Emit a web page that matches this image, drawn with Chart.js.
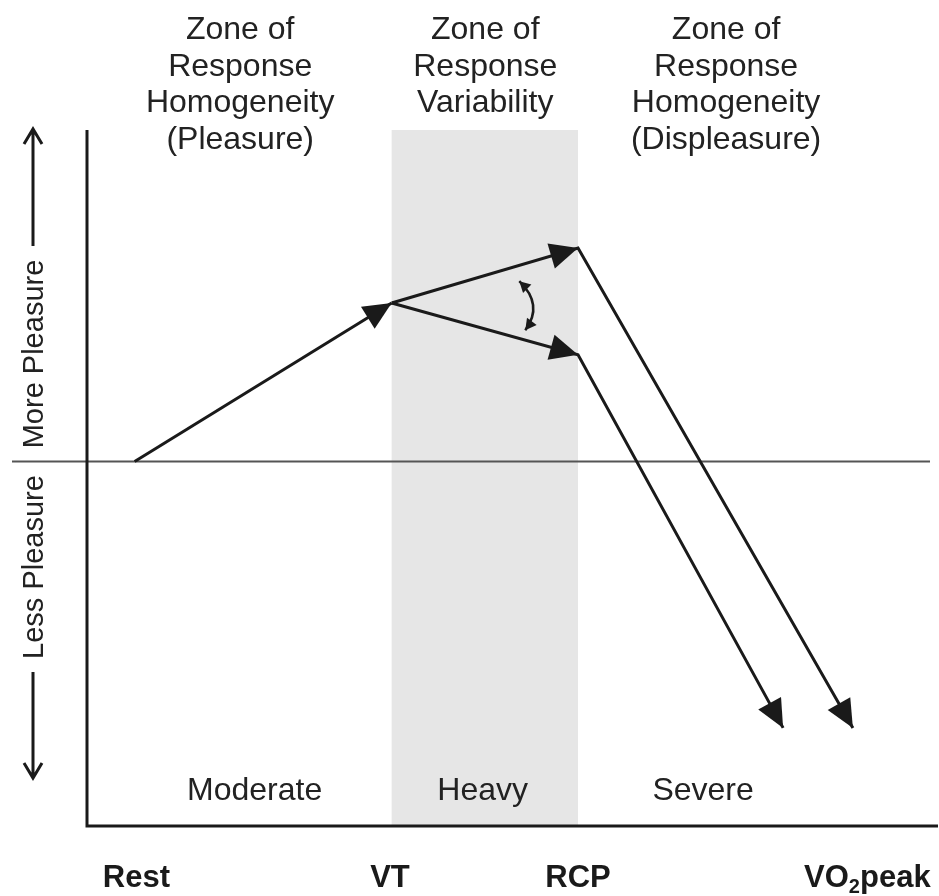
<!DOCTYPE html>
<html>
<head>
<meta charset="utf-8">
<script src="https://cdn.jsdelivr.net/npm/chart.js@4/dist/chart.umd.min.js"></script>
<style>
    body { margin: 0; background: #fff; }
    canvas { display: block; }
</style>
</head>
<body>
<canvas id="affect-chart" width="939" height="896"></canvas>
<script>
// Intensity axis (arbitrary units) and affect axis (neutral = 0)
const intensityTickLabels = ['Rest', 'VT', 'RCP', 'VO2peak'];
const intensityTickValues = [0.58, 3.56, 5.77, 9.17];

// Affective response paths
const riseX = [0.56, 3.58];
const riseY = [0, 2.39];
const upperX = [3.58, 5.77, 9.0];
const upperY = [2.39, 3.22, -4.02];
const lowerX = [3.58, 5.77, 8.18];
const lowerY = [2.39, 1.61, -4.02];

// Heavy domain band (between VT and RCP)
const heavyBand = [3.58, 5.77];

// Variability marker (curved double arrow)
const swingX = [5.08, 5.37, 5.15];
const swingY = [2.72, 2.36, 1.98];

// Zone titles above the plot
const zoneTitleX = [1.80, 4.68, 7.51];
const zoneTitles = [
    ['Zone of', 'Response', 'Homogeneity', '(Pleasure)'],
    ['Zone of', 'Response', 'Variability'],
    ['Zone of', 'Response', 'Homogeneity', '(Displeasure)']
];

// Intensity domains along the bottom
const domainLabels = ['Moderate', 'Heavy', 'Severe'];
const domainX = [1.97, 4.65, 7.24];

const INK = '#1a1a1a';
const FONT = '"Liberation Sans", Arial, Helvetica, sans-serif';

function toPoints(xs, ys) {
    return xs.map((x, i) => ({ x: x, y: ys[i] }));
}

function arrowHead(ctx, fromX, fromY, toX, toY, len, halfW) {
    const a = Math.atan2(toY - fromY, toX - fromX);
    const bx = toX - len * Math.cos(a);
    const by = toY - len * Math.sin(a);
    ctx.beginPath();
    ctx.moveTo(toX, toY);
    ctx.lineTo(bx + halfW * Math.sin(a), by - halfW * Math.cos(a));
    ctx.lineTo(bx - halfW * Math.sin(a), by + halfW * Math.cos(a));
    ctx.closePath();
    ctx.fill();
}

function openArrow(ctx, x, y1, y2) {
    // shaft from y1 to y2, chevron head at y2
    const dir = y2 < y1 ? 1 : -1;
    ctx.beginPath();
    ctx.moveTo(x, y1);
    ctx.lineTo(x, y2);
    ctx.moveTo(x - 9, y2 + dir * 15);
    ctx.lineTo(x, y2);
    ctx.lineTo(x + 9, y2 + dir * 15);
    ctx.stroke();
}

const diagramPlugin = {
    id: 'diagram',
    beforeDatasetsDraw(chart) {
        const { ctx, chartArea, scales } = chart;
        const xs = scales.x, ys = scales.y;
        ctx.save();
        // heavy band
        const bx0 = xs.getPixelForValue(heavyBand[0]);
        const bx1 = xs.getPixelForValue(heavyBand[1]);
        ctx.fillStyle = '#e6e6e6';
        ctx.fillRect(bx0, chartArea.top, bx1 - bx0, chartArea.bottom - chartArea.top);
        // neutral line
        const y0 = ys.getPixelForValue(0);
        ctx.strokeStyle = '#555';
        ctx.lineWidth = 2;
        ctx.beginPath();
        ctx.moveTo(12, y0);
        ctx.lineTo(930, y0);
        ctx.stroke();
        ctx.restore();
    },
    afterDatasetsDraw(chart) {
        const { ctx, chartArea, scales } = chart;
        const xs = scales.x, ys = scales.y;
        ctx.save();
        ctx.fillStyle = INK;

        // arrowheads at the end of every segment
        chart.data.datasets.forEach(ds => {
            for (let i = 1; i < ds.data.length; i++) {
                const p0 = ds.data[i - 1], p1 = ds.data[i];
                arrowHead(ctx,
                    xs.getPixelForValue(p0.x), ys.getPixelForValue(p0.y),
                    xs.getPixelForValue(p1.x), ys.getPixelForValue(p1.y), 28, 13);
            }
        });

        // curved double arrow
        const sx = swingX.map(v => xs.getPixelForValue(v));
        const sy = swingY.map(v => ys.getPixelForValue(v));
        ctx.strokeStyle = INK;
        ctx.lineWidth = 2.5;
        ctx.beginPath();
        ctx.moveTo(sx[0], sy[0]);
        ctx.quadraticCurveTo(sx[1], sy[1], sx[2], sy[2]);
        ctx.stroke();
        arrowHead(ctx, sx[1], sy[1], sx[0], sy[0], 11, 6);
        arrowHead(ctx, sx[1], sy[1], sx[2], sy[2], 11, 6);

        // axes
        ctx.strokeStyle = INK;
        ctx.lineWidth = 3;
        ctx.beginPath();
        ctx.moveTo(chartArea.left, chartArea.top);
        ctx.lineTo(chartArea.left, chartArea.bottom);
        ctx.lineTo(chartArea.right, chartArea.bottom);
        ctx.stroke();

        // side arrows and labels
        openArrow(ctx, 33, 246, 129);
        openArrow(ctx, 33, 672, 778);
        ctx.font = '29px ' + FONT;
        ctx.textAlign = 'center';
        ctx.textBaseline = 'middle';
        ctx.fillStyle = '#222';
        [['More Pleasure', 354], ['Less Pleasure', 567]].forEach(([t, cy]) => {
            ctx.save();
            ctx.translate(35, cy);
            ctx.rotate(-Math.PI / 2);
            ctx.fillText(t, 0, 0);
            ctx.restore();
        });

        // zone titles
        ctx.font = '32px ' + FONT;
        zoneTitles.forEach((lines, i) => {
            const cx = xs.getPixelForValue(zoneTitleX[i]);
            lines.forEach((line, j) => {
                ctx.fillText(line, cx, 30 + j * 36.7);
            });
        });

        // domain labels
        domainLabels.forEach((t, i) => {
            ctx.fillText(t, xs.getPixelForValue(domainX[i]), 791);
        });

        // intensity tick labels (bold)
        ctx.fillStyle = INK;
        const ty = 878;
        intensityTickLabels.forEach((t, i) => {
            const cx = xs.getPixelForValue(intensityTickValues[i]);
            if (t === 'VO2peak') {
                const big = 'bold 31px ' + FONT, small = 'bold 20px ' + FONT;
                ctx.font = big;
                const wVO = ctx.measureText('VO').width;
                const wPeak = ctx.measureText('peak').width;
                ctx.font = small;
                const w2 = ctx.measureText('2').width;
                let x = cx - (wVO + w2 + wPeak) / 2;
                ctx.textAlign = 'left';
                ctx.font = big;
                ctx.fillText('VO', x, ty);
                x += wVO;
                ctx.font = small;
                ctx.fillText('2', x, ty + 9);
                x += w2;
                ctx.font = big;
                ctx.fillText('peak', x, ty);
                ctx.textAlign = 'center';
            } else {
                ctx.font = 'bold 31px ' + FONT;
                ctx.fillText(t, cx, ty);
            }
        });
        ctx.restore();
    }
};

const lineStyle = {
    showLine: true,
    borderColor: INK,
    borderWidth: 3,
    pointRadius: 0,
    tension: 0,
    fill: false
};

const chart = new Chart(document.getElementById('affect-chart'), {
    type: 'scatter',
    data: {
        datasets: [
            Object.assign({ label: 'Rest to VT', data: toPoints(riseX, riseY) }, lineStyle),
            Object.assign({ label: 'Upper path', data: toPoints(upperX, upperY) }, lineStyle),
            Object.assign({ label: 'Lower path', data: toPoints(lowerX, lowerY) }, lineStyle)
        ]
    },
    options: {
        responsive: false,
        animation: false,
        layout: { padding: { left: 87, right: 1, top: 130, bottom: 70 } },
        scales: {
            x: { type: 'linear', min: 0, max: 10, display: false },
            y: { type: 'linear', min: -5.5, max: 5, display: false }
        },
        plugins: {
            legend: { display: false },
            tooltip: { enabled: false }
        }
    },
    plugins: [diagramPlugin]
});
</script>
</body>
</html>
